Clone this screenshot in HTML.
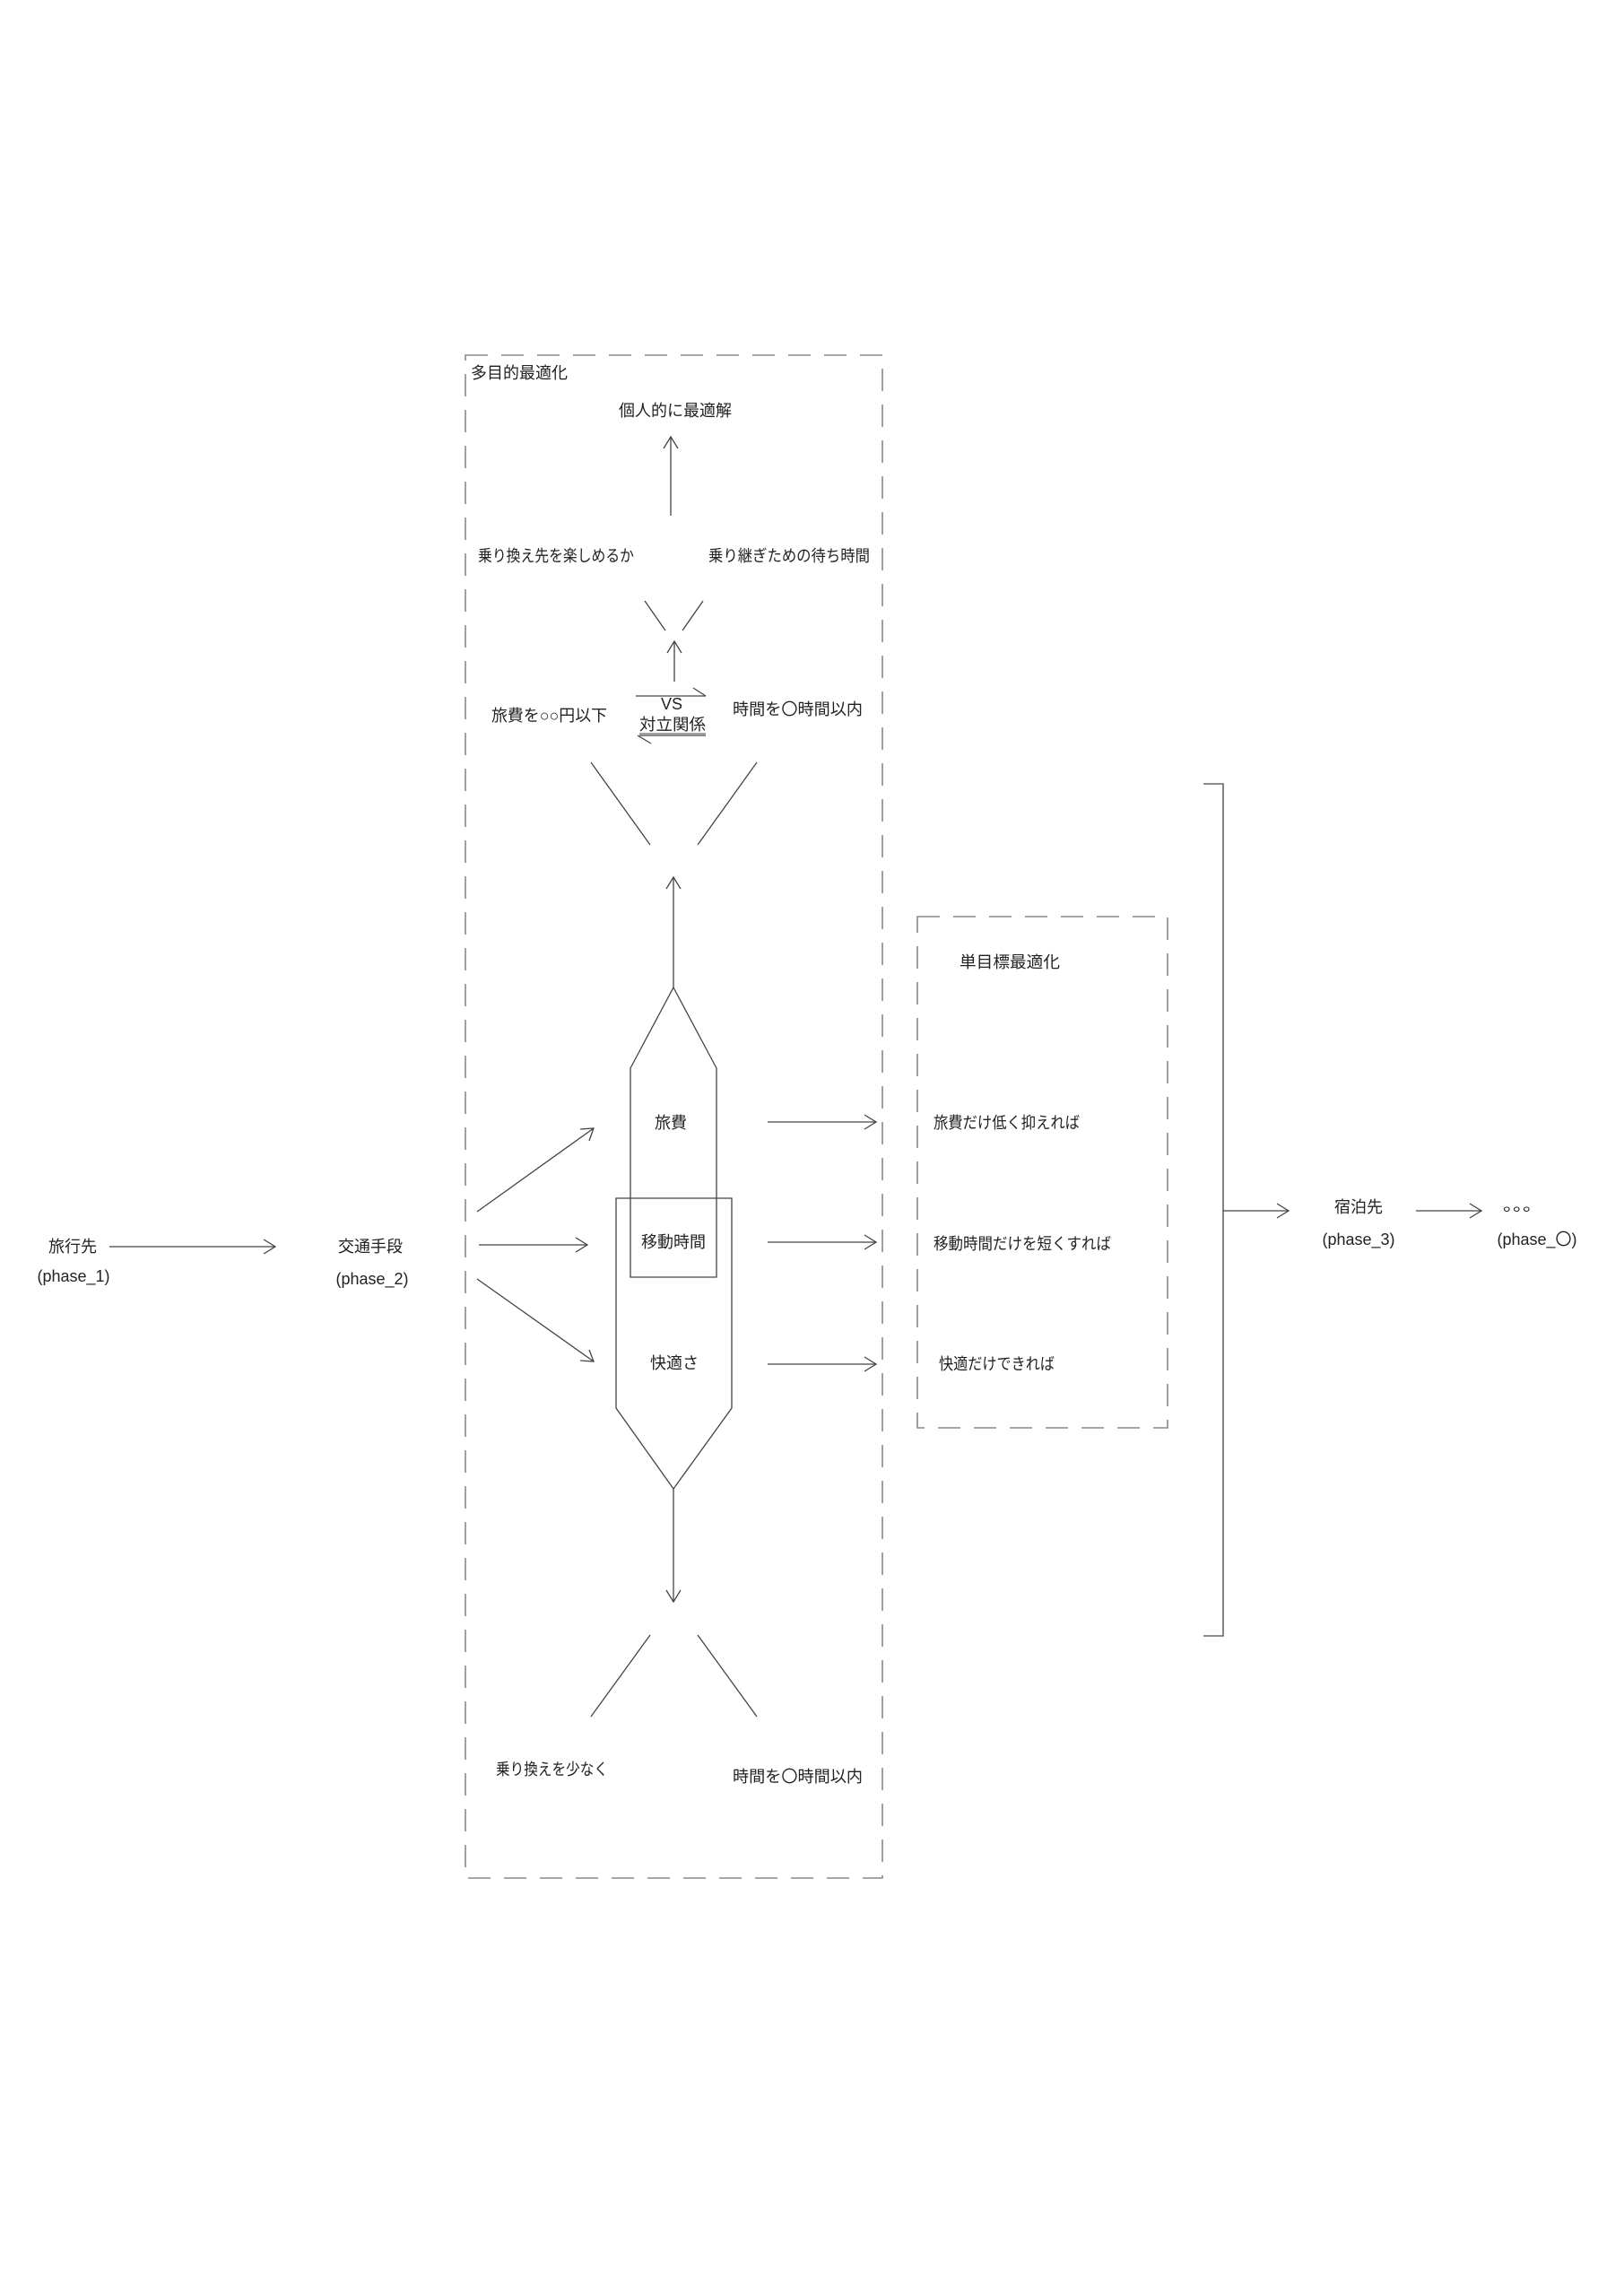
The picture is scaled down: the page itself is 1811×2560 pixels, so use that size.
<!DOCTYPE html>
<html><head><meta charset="utf-8"><style>
html,body{margin:0;padding:0;background:#fff;}
svg{display:block;}
text{font-family:"Liberation Sans","Noto Sans CJK JP",sans-serif;font-size:18px;fill:#222;dominant-baseline:central;}
</style></head><body>
<svg width="1811" height="2560" viewBox="0 0 1811 2560" xmlns="http://www.w3.org/2000/svg">
<g fill="none" stroke="#888" stroke-width="1.6" stroke-dasharray="25,15">
<rect x="519" y="396" width="465" height="1698"/>
<rect x="1023" y="1022" width="279" height="570"/>
</g>
<g fill="none" stroke="#444" stroke-width="1.3">
<line x1="748" y1="575" x2="748" y2="487"/><polyline points="740,500 748,487 756,500"/>
<line x1="719" y1="670" x2="742" y2="703"/><line x1="784" y1="670" x2="761" y2="703"/>
<line x1="752" y1="760" x2="752" y2="715"/><polyline points="744,728 752,715 760,728"/>
<line x1="709" y1="776" x2="787" y2="776"/><line x1="773" y1="767" x2="787" y2="776"/>
<line x1="713" y1="820" x2="787" y2="820"/><line x1="726" y1="829" x2="711" y2="820"/>
<line x1="713" y1="818" x2="787" y2="818" stroke-width="1"/>
<line x1="659" y1="850" x2="725" y2="942"/><line x1="844" y1="850" x2="778" y2="942"/>
<line x1="751" y1="1101" x2="751" y2="978"/><polyline points="743,991 751,978 759,991"/>
<polygon points="751,1101 799,1191 799,1424 703,1424 703,1191"/>
<polygon points="687,1336 816,1336 816,1570 751,1660 687,1570"/>
<line x1="751" y1="1660" x2="751" y2="1786"/><polyline points="743,1773 751,1786 759,1773"/>
<line x1="725" y1="1823" x2="659" y2="1914"/><line x1="778" y1="1823" x2="844" y2="1914"/>
<line x1="532" y1="1351" x2="662" y2="1258"/><polyline points="647,1259 662,1258 657,1272"/>
<line x1="534" y1="1388" x2="655" y2="1388"/><polyline points="642,1380 655,1388 642,1396"/>
<line x1="532" y1="1426" x2="662" y2="1518"/><polyline points="657,1505 662,1518 647,1517"/>
<line x1="856" y1="1251" x2="977" y2="1251"/><polyline points="964,1243 977,1251 964,1259"/>
<line x1="856" y1="1385" x2="977" y2="1385"/><polyline points="964,1377 977,1385 964,1393"/>
<line x1="856" y1="1521" x2="977" y2="1521"/><polyline points="964,1513 977,1521 964,1529"/>
<line x1="122" y1="1390" x2="307" y2="1390"/><polyline points="294,1382 307,1390 294,1398"/>
<polyline points="1342,874 1364,874 1364,1824 1342,1824" stroke="#666" stroke-width="1.6"/>
<line x1="1364" y1="1350" x2="1437" y2="1350"/><polyline points="1424,1342 1437,1350 1424,1358"/>
<line x1="1579" y1="1350" x2="1652" y2="1350"/><polyline points="1639,1342 1652,1350 1639,1358"/>
</g>
<text x="525" y="416" font-size="17">多目的最適化</text>
<text x="753" y="458" text-anchor="middle" textLength="126" lengthAdjust="spacingAndGlyphs">個人的に最適解</text>
<text x="533" y="620" textLength="174" lengthAdjust="spacingAndGlyphs">乗り換え先を楽しめるか</text>
<text x="790" y="620" textLength="180" lengthAdjust="spacingAndGlyphs">乗り継ぎための待ち時間</text>
<text x="749" y="785" text-anchor="middle" font-size="17">VS</text>
<text x="750" y="808" text-anchor="middle" font-size="17" textLength="74" lengthAdjust="spacingAndGlyphs">対立関係</text>
<text x="548" y="798" textLength="129" lengthAdjust="spacingAndGlyphs">旅費を○○円以下</text>
<text x="817" y="791" textLength="145" lengthAdjust="spacingAndGlyphs">時間を〇時間以内</text>
<text x="748" y="1252" text-anchor="middle">旅費</text>
<text x="751" y="1385" text-anchor="middle">移動時間</text>
<text x="752" y="1520" text-anchor="middle">快適さ</text>
<text x="553" y="1973" textLength="125" lengthAdjust="spacingAndGlyphs">乗り換えを少なく</text>
<text x="817" y="1981" textLength="145" lengthAdjust="spacingAndGlyphs">時間を〇時間以内</text>
<text x="1070" y="1073" textLength="112" lengthAdjust="spacingAndGlyphs">単目標最適化</text>
<text x="1041" y="1252" textLength="163" lengthAdjust="spacingAndGlyphs">旅費だけ低く抑えれば</text>
<text x="1041" y="1387" textLength="198" lengthAdjust="spacingAndGlyphs">移動時間だけを短くすれば</text>
<text x="1047" y="1521" textLength="129" lengthAdjust="spacingAndGlyphs">快適だけできれば</text>
<text x="81" y="1390" text-anchor="middle">旅行先</text>
<text x="82" y="1423" text-anchor="middle" font-size="18.5">(phase_1)</text>
<text x="413" y="1390" text-anchor="middle">交通手段</text>
<text x="415" y="1426" text-anchor="middle" font-size="18.5">(phase_2)</text>
<text x="1515" y="1346" text-anchor="middle">宿泊先</text>
<text x="1515" y="1382" text-anchor="middle" font-size="18.5">(phase_3)</text>
<text x="1676" y="1344" font-size="24" textLength="44" lengthAdjust="spacingAndGlyphs">。。。</text>
<text x="1714" y="1382" text-anchor="middle" font-size="18.5">(phase_〇)</text>
</svg>
</body></html>
